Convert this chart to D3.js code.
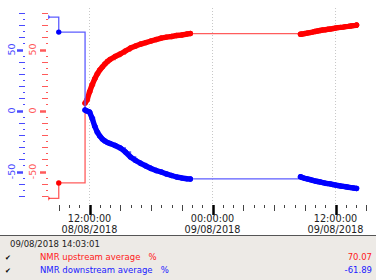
<!DOCTYPE html>
<html>
<head>
<meta charset="utf-8">
<script src="https://cdn.jsdelivr.net/npm/d3@7"></script>
<style>
  body { margin: 0; background: #fff; }
  svg { display: block; font-family: "DejaVu Sans", sans-serif; }
</style>
</head>
<body>
<svg width="376" height="280"></svg>
<script>
// sample times (shared by both series)
const times = [
  "2018-08-08 07:50", "2018-08-08 09:00", "2018-08-08 11:34", "2018-08-08 11:45",
  "2018-08-08 12:00", "2018-08-08 12:15", "2018-08-08 12:30", "2018-08-08 12:45",
  "2018-08-08 13:00", "2018-08-08 13:15", "2018-08-08 13:30", "2018-08-08 13:45",
  "2018-08-08 14:00", "2018-08-08 14:30", "2018-08-08 15:00", "2018-08-08 15:30",
  "2018-08-08 16:00", "2018-08-08 16:30", "2018-08-08 17:00", "2018-08-08 17:30",
  "2018-08-08 18:00", "2018-08-08 18:30", "2018-08-08 19:00", "2018-08-08 19:30",
  "2018-08-08 20:00", "2018-08-08 20:30", "2018-08-08 21:00", "2018-08-08 21:30",
  "2018-08-08 21:50",
  "2018-08-09 08:35", "2018-08-09 08:45", "2018-08-09 09:00", "2018-08-09 09:15",
  "2018-08-09 09:30", "2018-08-09 09:45", "2018-08-09 10:00", "2018-08-09 10:15",
  "2018-08-09 10:30", "2018-08-09 10:45", "2018-08-09 11:00", "2018-08-09 11:15",
  "2018-08-09 11:30", "2018-08-09 11:45", "2018-08-09 12:00", "2018-08-09 12:15",
  "2018-08-09 12:30", "2018-08-09 12:45", "2018-08-09 13:00", "2018-08-09 13:15",
  "2018-08-09 13:30", "2018-08-09 13:45", "2018-08-09 14:00", "2018-08-09 14:03"
];

const upstream = [
  -72, -59.4, 6.1, 8.6,
  15.2, 20.9, 25.8, 29.9,
  33.2, 35.7, 38.1, 40.2,
  41.8, 44.3, 46.3, 48.8,
  51.2, 52.9, 54.5, 55.7,
  57.0, 58.2, 59.4, 60.2,
  60.7, 61.5, 61.9, 62.7,
  63.1,
  62.5, 62.7, 63.1, 63.5,
  63.9, 64.3, 64.8, 65.2,
  65.6, 66.0, 66.2, 66.6,
  66.8, 67.2, 67.6, 68.0,
  68.2, 68.4, 68.8, 69.0,
  69.3, 69.6, 69.8, 70.07
];

const downstream = [
  76.6, 64.3, 0.4, -0.4,
  -1.2, -6.1, -12.7, -17.6,
  -20.9, -23.4, -25.0, -26.2,
  -27.0, -28.7, -30.7, -34.0,
  -38.1, -41.0, -43.4, -45.5,
  -47.5, -49.2, -50.4, -52.0,
  -53.3, -54.5, -55.3, -55.9,
  -56.1,
  -54.3, -54.9, -55.6, -56.1,
  -56.6, -57.2, -57.8, -58.2,
  -58.6, -59.1, -59.6, -59.9,
  -60.2, -60.7, -61.1, -61.5,
  -61.9, -62.2, -62.5, -62.9,
  -63.2, -63.5, -63.8, -63.9
];

const yLabels = [-50, 0, 50];
const xMajor = ["2018-08-08 12:00", "2018-08-09 00:00", "2018-08-09 12:00"];
const xMajorTime = ["12:00:00", "00:00:00", "12:00:00"];
const xMajorDate = ["08/08/2018", "09/08/2018", "09/08/2018"];

const cursorTime = "09/08/2018 14:03:01";
const legendNames = ["NMR upstream average", "NMR downstream average"];
const legendUnits = ["%", "%"];
const legendValues = ["70.07", "-61.89"];

const parse = d3.timeParse("%Y-%m-%d %H:%M");
const svg = d3.select("svg");

const x = d3.scaleTime()
  .domain([parse("2018-08-08 08:00"), parse("2018-08-09 15:20")])
  .range([48.5, 369.7]);
const y = d3.scaleLinear().domain([-75, 82]).range([202, 10.5]);

// clip for plot area
svg.append("defs").append("clipPath").attr("id", "plot")
  .append("rect").attr("x", 48.5).attr("y", 5).attr("width", 322).attr("height", 200);

// vertical dotted grid at major times
svg.append("g").selectAll("line")
  .data(xMajor.map(parse))
  .enter().append("line")
  .attr("x1", d => x(d)).attr("x2", d => x(d))
  .attr("y1", 8).attr("y2", 206)
  .attr("stroke", "#c8c8c8").attr("stroke-dasharray", "1,2");

// x ticks
const hours = d3.timeHour.range(parse("2018-08-08 09:00"), parse("2018-08-09 15:30"));
const xt = svg.append("g");
xt.selectAll("line").data(hours).enter().append("line")
  .attr("x1", d => Math.round(x(d)) + 0.5).attr("x2", d => Math.round(x(d)) + 0.5)
  .attr("y1", 205)
  .attr("y2", d => d.getHours() % 12 === 0 ? 215 : d.getHours() % 3 === 0 ? 211 : 208)
  .attr("stroke", d => d.getHours() % 12 === 0 ? "#000" : "#444")
  .attr("stroke-width", d => d.getHours() % 12 === 0 ? 2.5 : 1);

xt.selectAll("text.t").data(xMajor).enter().append("text")
  .attr("x", d => x(parse(d))).attr("y", 222)
  .attr("text-anchor", "middle").attr("font-size", 9.7).attr("fill", "#222")
  .text((d, i) => xMajorTime[i]);
xt.selectAll("text.d").data(xMajor).enter().append("text")
  .attr("x", d => x(parse(d))).attr("y", 233)
  .attr("text-anchor", "middle").attr("font-size", 9.7).attr("fill", "#222")
  .text((d, i) => xMajorDate[i]);

// y axes (blue outer, red inner)
const yTicks = d3.range(-70, 81, 5);
function yAxis(ax, color, labelX) {
  const g = svg.append("g");
  g.selectAll("line").data(yTicks).enter().append("line")
    .attr("x1", d => d % 50 === 0 ? ax - 8 : d % 10 === 0 ? ax - 6 : ax - 2)
    .attr("x2", d => d % 50 === 0 ? ax - 2 : ax)
    .attr("y1", d => Math.round(y(d)) + 0.5).attr("y2", d => Math.round(y(d)) + 0.5)
    .attr("stroke", color)
    .attr("stroke-width", d => d % 50 === 0 ? 2.5 : 1);
  g.selectAll("text").data(yLabels).enter().append("text")
    .attr("transform", d => `translate(${labelX},${y(d)}) rotate(-90)`)
    .attr("text-anchor", "middle").attr("dy", "0.35em")
    .attr("font-size", 9.5).attr("fill", color)
    .text(d => d);
}
yAxis(25, "#4a4aff", 11.5);
yAxis(48, "#ff5a5a", 33);

// series
const series = [
  { values: upstream, color: "#ff0000", thin: "#ff5c5c" },
  { values: downstream, color: "#0000ff", thin: "#5c5cff" }
];
const plot = svg.append("g").attr("clip-path", "url(#plot)");

series.forEach(s => {
  const pts = times.map((t, i) => ({ t: parse(t), v: s.values[i] }));
  plot.append("path").datum(pts)
    .attr("fill", "none").attr("stroke", s.thin).attr("stroke-width", 1.3)
    .attr("d", d3.line().curve(d3.curveStepAfter).x(d => x(d.t)).y(d => y(d.v)));

  // dense runs drawn as thick strokes
  const runs = [];
  let run = [pts[0]];
  for (let i = 1; i < pts.length; i++) {
    if (pts[i].t - pts[i - 1].t <= 45 * 60000) run.push(pts[i]);
    else { runs.push(run); run = [pts[i]]; }
  }
  runs.push(run);
  runs.filter(r => r.length > 1).forEach(r => {
    plot.append("path").datum(r)
      .attr("fill", "none").attr("stroke", s.color).attr("stroke-width", 5.4)
      .attr("stroke-linecap", "round").attr("stroke-linejoin", "round")
      .attr("d", d3.line().x(d => x(d.t)).y(d => y(d.v)));
  });

  plot.append("g").selectAll("circle").data(pts).enter().append("circle")
    .attr("cx", d => x(d.t)).attr("cy", d => y(d.v)).attr("r", 2.7)
    .attr("fill", s.color);
});

// bottom legend panel
svg.append("rect").attr("x", 0).attr("y", 235).attr("width", 376).attr("height", 45)
  .attr("fill", "#edeae6");
svg.append("line").attr("x1", 0).attr("x2", 376).attr("y1", 235.5).attr("y2", 235.5)
  .attr("stroke", "#555");
svg.append("text").attr("x", 10).attr("y", 247).attr("font-size", 8.5).attr("fill", "#222")
  .text(cursorTime);

const colors = ["#ff2020", "#2020ff"];
const lg = svg.append("g").selectAll("g").data(legendNames).enter().append("g")
  .attr("transform", (d, i) => `translate(0,${260 + i * 13})`);
lg.append("text").attr("x", 5).attr("font-size", 7).attr("fill", "#000").text("\u2714");
lg.append("text").attr("x", 40).attr("font-size", 8.5).attr("fill", (d, i) => colors[i])
  .text((d, i) => d + "   " + legendUnits[i]).attr("xml:space", "preserve");
lg.append("text").attr("x", 372).attr("text-anchor", "end").attr("font-size", 8.5)
  .attr("fill", (d, i) => colors[i]).text((d, i) => legendValues[i]);
</script>
</body>
</html>
